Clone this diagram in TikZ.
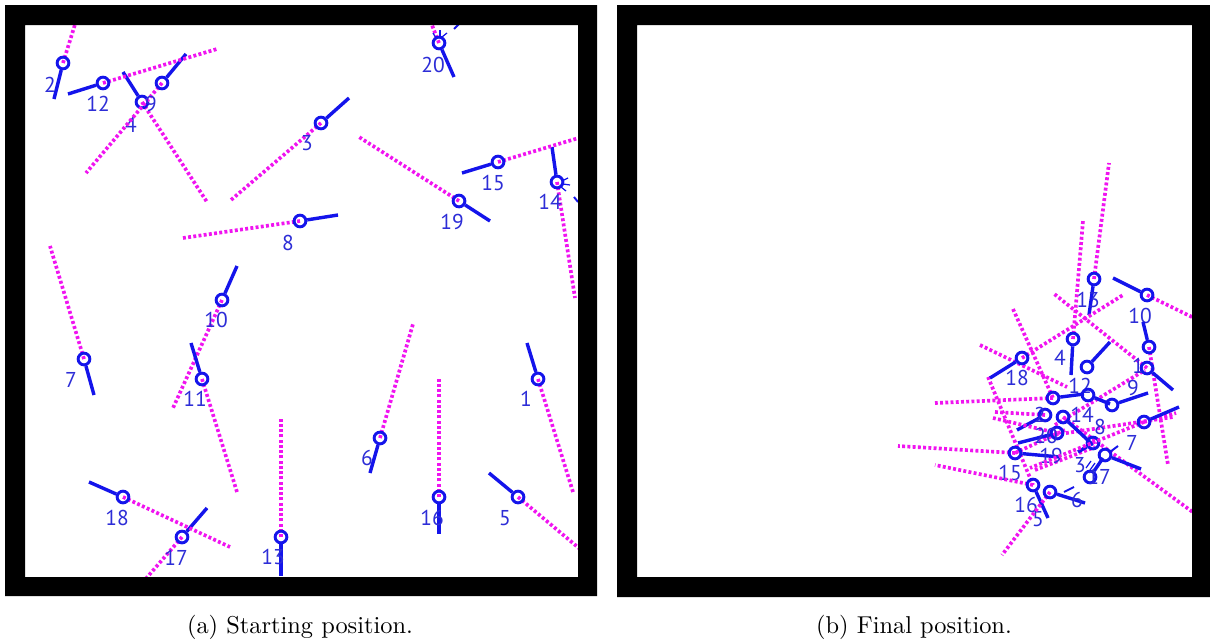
\documentclass[tikz,border=0pt]{standalone}
\usepackage{fontspec}
\newfontfamily\lblfont{PT Sans}
\definecolor{rob}{RGB}{20,20,235}
\definecolor{lblc}{RGB}{45,45,215}
\definecolor{raym}{RGB}{240,20,240}
\tikzset{
  ring/.style={circle,draw=rob,line width=1.2pt,minimum size=4.8pt,inner sep=0pt},
  head/.style={draw=rob,line width=1.4pt},
  ray/.style={draw=raym,line width=1.5pt,dash pattern=on 1.2pt off 0.95pt},
  spoke/.style={draw=rob,line width=0.5pt},
  lbl/.style={text=lblc,font=\lblfont\fontsize{8.8}{9}\selectfont,inner sep=0pt},
  captxt/.style={font=\fontsize{10}{12}\selectfont,inner sep=0pt}
}
\newcommand{\rbt}[6]{%
  \coordinate (#1h) at #3;
  \coordinate (#1r) at #4;
  \coordinate (#1c) at #2;
  \draw[ray] (#1c) -- (#1r);
  \node[ring] (#1) at #2 {};
  \draw[head] (#1) -- (#1h);
  \node[lbl] (#1l) at #5 {#6};
}
\newcommand{\rbtnl}[4]{%
  \coordinate (#1h) at #3;
  \coordinate (#1r) at #4;
  \coordinate (#1c) at #2;
  \draw[ray] (#1c) -- (#1r);
  \node[ring] (#1) at #2 {};
  \draw[head] (#1) -- (#1h);
}
\newcommand{\rbtbare}[3]{%
  \coordinate (#1h) at #3;
  \node[ring] (#1) at #2 {};
  \draw[head] (#1) -- (#1h);
}
\begin{document}
\begin{tikzpicture}[x=0.41pt,y=-0.41pt]
\useasboundingbox (0,0) rectangle (1210,641);
\fill[white] (0,0) rectangle (1210,641);
% ---------- panel (a) ----------
\rbt{a1}{(538,379)}{(527,343)}{(573,492)}{(526,399)}{1}
\rbt{a2}{(63,63)}{(54,99)}{(77,18)}{(50,85)}{2}
\rbt{a3}{(321,123)}{(349,98)}{(231,200)}{(307,143)}{3}
\rbt{a4}{(142,102)}{(123,72)}{(207,202)}{(131,125)}{4}
\rbt{a5}{(518,497)}{(489,473)}{(580,549)}{(505,518)}{5}
\rbt{a6}{(380,438)}{(370,473)}{(413,324)}{(367,458)}{6}
\rbt{a7}{(84,359)}{(94,395)}{(50,246)}{(71,380)}{7}
\rbt{a8}{(300,221)}{(338,215)}{(183,238)}{(288,243)}{8}
\rbt{a9}{(162,83)}{(186,54)}{(86,173)}{(151,104)}{9}
\rbt{a10}{(222,300)}{(237,266)}{(173,408)}{(216,320)}{10}
\rbt{a11}{(202,379)}{(191,343)}{(237,492)}{(195,399)}{11}
\rbt{a12}{(103,83)}{(68,94)}{(217,49)}{(98,104)}{12}
\rbt{a13}{(281,537)}{(281,576)}{(281,418)}{(273,557)}{13}
\rbt{a14}{(557,182)}{(552,147)}{(575,298)}{(550,202)}{14}
\rbt{a15}{(498,162)}{(462,173)}{(582,137)}{(493,183)}{15}
\rbt{a16}{(439,497)}{(439,534)}{(439,379)}{(432,518)}{16}
\rbt{a17}{(182,537)}{(207,508)}{(143,582)}{(176,558)}{17}
\rbt{a18}{(123,497)}{(89,482)}{(230,547)}{(117,518)}{18}
\rbt{a19}{(459,201)}{(490,221)}{(359,137)}{(452,222)}{19}
\rbt{a20}{(439,43)}{(454,77)}{(430,20)}{(433,65)}{20}
% small marks
\draw[spoke] (433,33) -- (436,38);
\draw[spoke] (440,30) -- (440,36);
\draw[spoke] (442,37) -- (447,33);
\draw[spoke,line width=0.8pt] (454,29) -- (459,24);
\draw[spoke] (562,181) -- (568,178);
\draw[spoke] (563,184) -- (570,185);
\draw[spoke] (561,187) -- (566,191);
\draw[spoke,line width=0.8pt] (574,197) -- (578,202);
% ---------- panel (b) ----------
% free sensor rays
\coordinate (f1a) at (980,345);  \coordinate (f1b) at (1067,387);
\coordinate (f2a) at (1013,309); \coordinate (f2b) at (1053,398);
\coordinate (f3a) at (988,377);  \coordinate (f3b) at (1033,485);
\coordinate (f4a) at (1055,425); \coordinate (f4b) at (1145,370);
\coordinate (f5a) at (1035,470); \coordinate (f5b) at (1095,447);
\coordinate (f6a) at (1040,437); \coordinate (f6b) at (1173,417);
\coordinate (f7a) at (1015,453); \coordinate (f7b) at (1065,430);
\coordinate (f8a) at (1144,422); \coordinate (f8b) at (1176,413);
\draw[ray] (f1a) -- (f1b);
\draw[ray] (f2a) -- (f2b);
\draw[ray] (f3a) -- (f3b);
\draw[ray] (f4a) -- (f4b);
\draw[ray] (f5a) -- (f5b);
\draw[ray] (f6a) -- (f6b);
\draw[ray] (f7a) -- (f7b);
\draw[ray] (f8a) -- (f8b);
\rbt{b13}{(1094,279)}{(1089,315)}{(1109,163)}{(1088,300)}{13}
\rbt{b10}{(1147,295)}{(1113,278)}{(1194,318)}{(1140,316)}{10}
\rbt{b4}{(1073,339)}{(1071,375)}{(1083,221)}{(1060,358)}{4}
\rbt{b18}{(1022,358)}{(990,378)}{(1123,295)}{(1017,378)}{18}
\rbtnl{bx}{(1149,347)}{(1143,322)}{(1168,465)}
\rbt{b1}{(1147,368)}{(1173,390)}{(1053,293)}{(1138,366)}{1}
\rbtbare{b12}{(1087,367)}{(1110,342)}
\node[lbl] (b12l) at (1080,386) {12};
\rbtnl{bA}{(1053,398)}{(1084,394)}{(935,403)}
\rbtbare{bB}{(1088,395)}{(1110,404)}
\rbtbare{b9}{(1112,405)}{(1148,393)}
\node[lbl] (b9l) at (1133,388) {9};
\rbt{b14}{(1063,417)}{(1093,445)}{(1194,513)}{(1082,415)}{14}
\rbt{b2}{(1045,415)}{(1017,430)}{(995,412)}{(1040,415)}{2}
\rbt{b20}{(1057,433)}{(1018,443)}{(993,418)}{(1046,436)}{20}
\rbt{b15}{(1015,453)}{(1060,457)}{(898,446)}{(1010,473)}{15}
\node[lbl] (b19l) at (1051,456) {19};
\rbtbare{b8}{(1093,443)}{(1078,452)}
\node[lbl] (b8l) at (1100,427) {8};
\rbt{b7}{(1144,422)}{(1179,407)}{(1030,468)}{(1132,443)}{7}
\rbtbare{b3}{(1105,455)}{(1141,469)}
\node[lbl] (b3l) at (1080,465) {3};
\rbtbare{b17}{(1090,477)}{(1103,458)}
\node[lbl] (b17l) at (1099,477) {17};
\rbt{b16}{(1033,485)}{(1048,518)}{(935,465)}{(1026,505)}{16}
\node[lbl] (b5l) at (1038,519) {5};
\rbt{b6}{(1050,492)}{(1085,503)}{(1002,555)}{(1077,500)}{6}
\draw[spoke] (1086,468) -- (1091,461);
\draw[spoke] (1090,470) -- (1095,463);
\draw[spoke,line width=0.8pt] (1064,492) -- (1074,487);
\draw[spoke,line width=0.8pt] (1110,452) -- (1118,446);
% ---------- frames ----------
\fill[black,even odd rule] (5,5) rectangle (597,596) (25,25) rectangle (578,577);
\fill[black,even odd rule] (617,5) rectangle (1210,597) (637,25) rectangle (1192,577);
% ---------- captions ----------
\node[captxt] (capa) at (300,627) {(a) Starting position.};
\node[captxt] (capb) at (914,627) {(b) Final position.};
\end{tikzpicture}
\end{document}
